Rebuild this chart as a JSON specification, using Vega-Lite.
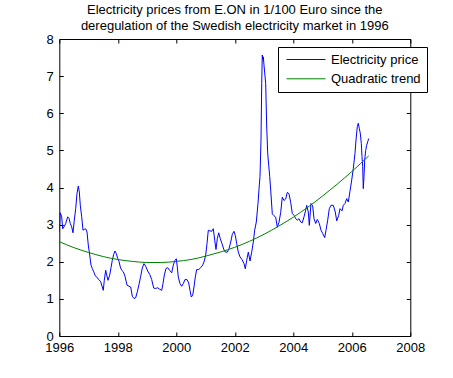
{
  "$schema": "https://vega.github.io/schema/vega-lite/v6.json",
  "width": 351,
  "height": 297,
  "autosize": {"type": "none"},
  "padding": {"left": 59.3, "top": 39, "right": 42.7, "bottom": 42},
  "background": "white",
  "config": {
    "view": {"stroke": "black", "strokeWidth": 1},
    "font": "Liberation Sans",
    "axis": {
      "grid": false,
      "domain": false,
      "ticks": true,
      "tickColor": "black",
      "tickWidth": 1,
      "tickSize": -4,
      "labelFont": "Liberation Sans",
      "labelFontSize": 13,
      "labelColor": "black",
      "title": null
    }
  },
  "title": {
    "text": ["Electricity prices from E.ON in 1/100 Euro since the", "deregulation of the Swedish electricity market in 1996"],
    "font": "Liberation Sans",
    "fontSize": 13,
    "fontWeight": "normal",
    "color": "black",
    "anchor": "middle",
    "frame": "group",
    "offset": 0,
    "lineHeight": 16
  },
  "datasets": {
    "price": [
      {"t": 1996.000, "v": 2.80}, {"t": 1996.034, "v": 3.32}, {"t": 1996.082, "v": 3.21}, {"t": 1996.116, "v": 2.89},
      {"t": 1996.161, "v": 2.94}, {"t": 1996.219, "v": 3.03}, {"t": 1996.287, "v": 3.21}, {"t": 1996.332, "v": 3.17},
      {"t": 1996.376, "v": 3.03}, {"t": 1996.424, "v": 2.94}, {"t": 1996.468, "v": 2.78}, {"t": 1996.513, "v": 3.12},
      {"t": 1996.561, "v": 3.43}, {"t": 1996.605, "v": 3.84}, {"t": 1996.650, "v": 4.04}, {"t": 1996.684, "v": 3.88},
      {"t": 1996.718, "v": 3.52}, {"t": 1996.766, "v": 3.21}, {"t": 1996.810, "v": 2.85}, {"t": 1996.855, "v": 2.87},
      {"t": 1996.903, "v": 2.89}, {"t": 1996.947, "v": 2.80}, {"t": 1996.991, "v": 2.45}, {"t": 1997.039, "v": 2.18},
      {"t": 1997.084, "v": 1.91}, {"t": 1997.128, "v": 1.82}, {"t": 1997.176, "v": 1.73}, {"t": 1997.221, "v": 1.64},
      {"t": 1997.289, "v": 1.57}, {"t": 1997.357, "v": 1.52}, {"t": 1997.415, "v": 1.46}, {"t": 1997.470, "v": 1.32},
      {"t": 1997.504, "v": 1.23}, {"t": 1997.538, "v": 1.50}, {"t": 1997.586, "v": 1.77}, {"t": 1997.621, "v": 1.64},
      {"t": 1997.665, "v": 1.50}, {"t": 1997.723, "v": 1.64}, {"t": 1997.768, "v": 1.84}, {"t": 1997.812, "v": 2.04},
      {"t": 1997.860, "v": 2.20}, {"t": 1997.904, "v": 2.29}, {"t": 1997.949, "v": 2.22}, {"t": 1997.997, "v": 2.09},
      {"t": 1998.041, "v": 2.01}, {"t": 1998.085, "v": 1.86}, {"t": 1998.133, "v": 1.77}, {"t": 1998.188, "v": 1.73},
      {"t": 1998.246, "v": 1.61}, {"t": 1998.315, "v": 1.37}, {"t": 1998.383, "v": 1.34}, {"t": 1998.441, "v": 1.32},
      {"t": 1998.496, "v": 1.07}, {"t": 1998.554, "v": 1.01}, {"t": 1998.612, "v": 1.03}, {"t": 1998.667, "v": 1.19},
      {"t": 1998.725, "v": 1.39}, {"t": 1998.783, "v": 1.61}, {"t": 1998.838, "v": 1.83}, {"t": 1998.896, "v": 1.95},
      {"t": 1998.954, "v": 1.88}, {"t": 1999.022, "v": 1.75}, {"t": 1999.091, "v": 1.66}, {"t": 1999.159, "v": 1.52},
      {"t": 1999.227, "v": 1.29}, {"t": 1999.296, "v": 1.28}, {"t": 1999.364, "v": 1.30}, {"t": 1999.433, "v": 1.26},
      {"t": 1999.501, "v": 1.23}, {"t": 1999.545, "v": 1.41}, {"t": 1999.590, "v": 1.64}, {"t": 1999.648, "v": 1.82},
      {"t": 1999.706, "v": 1.84}, {"t": 1999.774, "v": 1.77}, {"t": 1999.843, "v": 1.70}, {"t": 1999.897, "v": 1.91},
      {"t": 1999.956, "v": 2.04}, {"t": 2000.000, "v": 2.08}, {"t": 2000.034, "v": 1.86}, {"t": 2000.068, "v": 1.59},
      {"t": 2000.126, "v": 1.41}, {"t": 2000.185, "v": 1.34}, {"t": 2000.239, "v": 1.41}, {"t": 2000.297, "v": 1.52},
      {"t": 2000.366, "v": 1.52}, {"t": 2000.424, "v": 1.43}, {"t": 2000.468, "v": 1.23}, {"t": 2000.513, "v": 1.05},
      {"t": 2000.561, "v": 1.10}, {"t": 2000.605, "v": 1.32}, {"t": 2000.650, "v": 1.59}, {"t": 2000.697, "v": 1.79},
      {"t": 2000.766, "v": 1.79}, {"t": 2000.834, "v": 1.84}, {"t": 2000.903, "v": 1.91}, {"t": 2000.957, "v": 2.02},
      {"t": 2001.005, "v": 2.18}, {"t": 2001.050, "v": 2.49}, {"t": 2001.094, "v": 2.85}, {"t": 2001.152, "v": 2.83},
      {"t": 2001.210, "v": 2.82}, {"t": 2001.265, "v": 2.89}, {"t": 2001.313, "v": 2.58}, {"t": 2001.357, "v": 2.33},
      {"t": 2001.402, "v": 2.62}, {"t": 2001.450, "v": 2.78}, {"t": 2001.504, "v": 2.62}, {"t": 2001.562, "v": 2.49},
      {"t": 2001.621, "v": 2.34}, {"t": 2001.675, "v": 2.26}, {"t": 2001.744, "v": 2.26}, {"t": 2001.802, "v": 2.35},
      {"t": 2001.860, "v": 2.53}, {"t": 2001.915, "v": 2.74}, {"t": 2001.973, "v": 2.82}, {"t": 2002.017, "v": 2.71},
      {"t": 2002.065, "v": 2.49}, {"t": 2002.120, "v": 2.26}, {"t": 2002.178, "v": 2.13}, {"t": 2002.246, "v": 2.06},
      {"t": 2002.315, "v": 1.95}, {"t": 2002.359, "v": 1.81}, {"t": 2002.407, "v": 2.04}, {"t": 2002.462, "v": 2.26},
      {"t": 2002.520, "v": 2.02}, {"t": 2002.578, "v": 2.26}, {"t": 2002.632, "v": 2.53}, {"t": 2002.680, "v": 2.85},
      {"t": 2002.735, "v": 3.07}, {"t": 2002.793, "v": 3.57}, {"t": 2002.827, "v": 3.95}, {"t": 2002.862, "v": 4.30},
      {"t": 2002.896, "v": 5.28}, {"t": 2002.920, "v": 6.80}, {"t": 2002.940, "v": 7.57}, {"t": 2002.957, "v": 7.45},
      {"t": 2002.974, "v": 7.52}, {"t": 2002.998, "v": 7.30}, {"t": 2003.056, "v": 6.80}, {"t": 2003.091, "v": 5.63},
      {"t": 2003.125, "v": 4.92}, {"t": 2003.159, "v": 4.60}, {"t": 2003.193, "v": 4.30}, {"t": 2003.227, "v": 3.93},
      {"t": 2003.282, "v": 3.29}, {"t": 2003.340, "v": 3.24}, {"t": 2003.398, "v": 3.20}, {"t": 2003.453, "v": 2.93},
      {"t": 2003.511, "v": 3.06}, {"t": 2003.569, "v": 3.33}, {"t": 2003.624, "v": 3.74}, {"t": 2003.682, "v": 3.65},
      {"t": 2003.740, "v": 3.69}, {"t": 2003.795, "v": 3.87}, {"t": 2003.853, "v": 3.83}, {"t": 2003.911, "v": 3.60},
      {"t": 2003.966, "v": 3.30}, {"t": 2004.024, "v": 3.25}, {"t": 2004.082, "v": 3.16}, {"t": 2004.137, "v": 3.12},
      {"t": 2004.195, "v": 3.16}, {"t": 2004.253, "v": 3.07}, {"t": 2004.308, "v": 3.05}, {"t": 2004.366, "v": 3.21},
      {"t": 2004.424, "v": 3.39}, {"t": 2004.458, "v": 3.52}, {"t": 2004.513, "v": 3.34}, {"t": 2004.547, "v": 2.98},
      {"t": 2004.605, "v": 3.57}, {"t": 2004.663, "v": 3.50}, {"t": 2004.708, "v": 3.16}, {"t": 2004.766, "v": 3.03},
      {"t": 2004.821, "v": 3.14}, {"t": 2004.889, "v": 3.03}, {"t": 2004.947, "v": 2.85}, {"t": 2005.005, "v": 2.76},
      {"t": 2005.074, "v": 2.65}, {"t": 2005.118, "v": 2.85}, {"t": 2005.176, "v": 3.12}, {"t": 2005.231, "v": 3.43},
      {"t": 2005.289, "v": 3.52}, {"t": 2005.368, "v": 3.52}, {"t": 2005.436, "v": 3.34}, {"t": 2005.484, "v": 3.10},
      {"t": 2005.552, "v": 3.25}, {"t": 2005.597, "v": 3.43}, {"t": 2005.665, "v": 3.37}, {"t": 2005.709, "v": 3.52},
      {"t": 2005.768, "v": 3.57}, {"t": 2005.826, "v": 3.70}, {"t": 2005.880, "v": 3.61}, {"t": 2005.938, "v": 3.90},
      {"t": 2005.997, "v": 4.20}, {"t": 2006.051, "v": 4.51}, {"t": 2006.109, "v": 4.92}, {"t": 2006.144, "v": 5.28},
      {"t": 2006.188, "v": 5.64}, {"t": 2006.222, "v": 5.73}, {"t": 2006.256, "v": 5.59}, {"t": 2006.291, "v": 5.46},
      {"t": 2006.325, "v": 5.19}, {"t": 2006.349, "v": 4.83}, {"t": 2006.373, "v": 4.56}, {"t": 2006.393, "v": 3.97},
      {"t": 2006.417, "v": 4.29}, {"t": 2006.441, "v": 4.74}, {"t": 2006.475, "v": 5.00}, {"t": 2006.509, "v": 5.14},
      {"t": 2006.544, "v": 5.23}, {"t": 2006.578, "v": 5.32}
    ],
    "trend": [
      {"t": 1996.0, "v": 2.54}, {"t": 1996.5, "v": 2.38}, {"t": 1997.0, "v": 2.25}, {"t": 1997.5, "v": 2.14},
      {"t": 1998.0, "v": 2.06}, {"t": 1998.5, "v": 2.01}, {"t": 1999.0, "v": 1.98}, {"t": 1999.5, "v": 1.98},
      {"t": 2000.0, "v": 2.01}, {"t": 2000.5, "v": 2.06}, {"t": 2001.0, "v": 2.15}, {"t": 2001.5, "v": 2.26},
      {"t": 2002.0, "v": 2.39}, {"t": 2002.5, "v": 2.55}, {"t": 2003.0, "v": 2.74}, {"t": 2003.5, "v": 2.96},
      {"t": 2004.0, "v": 3.20}, {"t": 2004.5, "v": 3.47}, {"t": 2005.0, "v": 3.77}, {"t": 2005.5, "v": 4.09},
      {"t": 2006.0, "v": 4.43}, {"t": 2006.578, "v": 4.85}
    ]
  },
  "layer": [
    {
      "data": {"name": "price"},
      "mark": {"type": "line", "strokeWidth": 1, "clip": true},
      "encoding": {
        "x": {
          "field": "t", "type": "quantitative",
          "scale": {"domain": [1996, 2008], "nice": false, "zero": false},
          "axis": {"orient": "bottom", "values": [1996, 1998, 2000, 2002, 2004, 2006, 2008], "format": "d", "labelPadding": 9, "labelFlush": false}
        },
        "y": {
          "field": "v", "type": "quantitative",
          "scale": {"domain": [0, 8], "nice": false, "zero": true},
          "axis": {"orient": "left", "values": [0, 1, 2, 3, 4, 5, 6, 7, 8], "labelPadding": 10, "labelFlush": false}
        },
        "color": {
          "datum": "Electricity price", "type": "nominal",
          "scale": {"domain": ["Electricity price", "Quadratic trend"], "range": ["#0000ff", "#008000"]},
          "legend": {
            "title": null,
            "orient": "none",
            "legendX": 218.7,
            "legendY": 8,
            "fillColor": "white",
            "strokeColor": "black",
            "padding": 6,
            "cornerRadius": 0,
            "symbolType": "stroke",
            "symbolSize": 1521,
            "symbolStrokeWidth": 1,
            "clipHeight": 13,
            "symbolOffset": 2,
            "labelOffset": 5,
            "rowPadding": 5.3,
            "labelFont": "Liberation Sans",
            "labelFontSize": 13,
            "labelColor": "black",
            "labelLimit": 200
          }
        }
      }
    },
    {
      "data": {"name": "trend"},
      "mark": {"type": "line", "strokeWidth": 1, "clip": true, "interpolate": "monotone"},
      "encoding": {
        "x": {
          "field": "t", "type": "quantitative",
          "axis": {"orient": "top", "values": [1996, 1998, 2000, 2002, 2004, 2006, 2008], "labels": false}
        },
        "y": {
          "field": "v", "type": "quantitative",
          "axis": {"orient": "right", "values": [0, 1, 2, 3, 4, 5, 6, 7, 8], "labels": false}
        },
        "color": {"datum": "Quadratic trend", "type": "nominal"}
      }
    }
  ],
  "resolve": {"axis": {"x": "independent", "y": "independent"}}
}
